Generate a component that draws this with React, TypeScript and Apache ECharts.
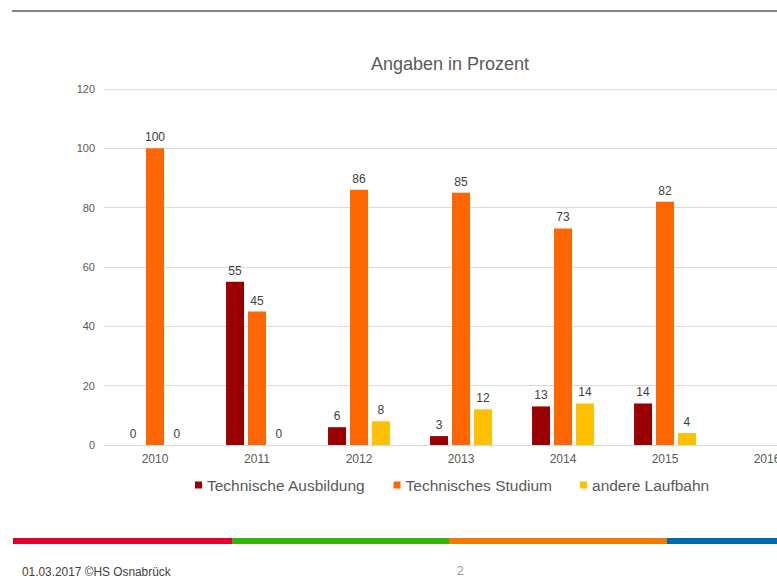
import React, { useEffect, useRef } from "react";
import * as echarts from "echarts";

const categories = ["2010", "2011", "2012", "2013", "2014", "2015", "2016"];
const ausbildung = [0, 55, 6, 3, 13, 14, null];
const studium = [100, 45, 86, 85, 73, 82, null];
const andere = [0, 0, 8, 12, 14, 4, null];
const seriesNames = ["Technische Ausbildung", "Technisches Studium", "andere Laufbahn"];
const seriesColors = ["#9A0000", "#FF6600", "#FFC000"];
const footerBars = [
  { x1: 13, x2: 232, color: "#E4002B" },
  { x1: 232, x2: 449, color: "#36B30A" },
  { x1: 449, x2: 667, color: "#F07D00" },
  { x1: 667, x2: 777, color: "#0069A8" },
];

const FONT = "Liberation Sans, Arial, sans-serif";

export default function App() {
  const ref = useRef<HTMLDivElement>(null);
  useEffect(() => {
    if (!ref.current) return;
    const chart = echarts.init(ref.current, null, { renderer: "svg" });
    const data = [ausbildung, studium, andere];
    chart.setOption({
      animation: false,
      backgroundColor: "#ffffff",
      title: {
        text: "Angaben in Prozent",
        left: 366,
        top: 50,
        textStyle: { fontFamily: FONT, fontSize: 18, fontWeight: "normal", color: "#595959" },
      },
      legend: {
        left: 190,
        top: 472,
        itemWidth: 7,
        itemHeight: 7,
        itemGap: 28,
        icon: "rect",
        textStyle: { fontFamily: FONT, fontSize: 15.5, color: "#595959" },
        data: seriesNames,
      },
      grid: { left: 104, top: 89, width: 714, height: 356, containLabel: false },
      xAxis: {
        type: "category",
        data: categories,
        axisLine: { lineStyle: { color: "#d9d9d9" } },
        axisTick: { show: false },
        axisLabel: { color: "#595959", fontSize: 12, margin: 8, fontFamily: FONT },
      },
      yAxis: {
        type: "value",
        min: 0,
        max: 120,
        interval: 20,
        axisLine: { show: false },
        axisTick: { show: false },
        splitLine: { lineStyle: { color: "#d9d9d9" } },
        axisLabel: { color: "#595959", fontSize: 11, margin: 9, fontFamily: FONT },
      },
      series: seriesNames.map((name, i) => ({
        name,
        type: "bar",
        data: data[i],
        barWidth: 18,
        barGap: "22%",
        itemStyle: { color: seriesColors[i] },
        label: {
          show: true,
          position: "top",
          distance: 5,
          color: "#404040",
          fontSize: 12,
          fontFamily: FONT,
        },
      })),
      graphic: [
        { type: "line", shape: { x1: 12, y1: 11, x2: 777, y2: 11 }, style: { stroke: "#5a5a5a", lineWidth: 1.5 } },
        ...footerBars.map((b) => ({
          type: "rect",
          shape: { x: b.x1, y: 538, width: b.x2 - b.x1, height: 6 },
          style: { fill: b.color },
        })),
        {
          type: "text",
          x: 22,
          y: 571,
          scaleX: 0.88,
          style: {
            text: "01.03.2017 ©HS Osnabrück",
            fontFamily: FONT,
            fontSize: 13.5,
            fill: "#404040",
            verticalAlign: "middle",
          },
        },
        {
          type: "text",
          x: 457,
          y: 571,
          style: { text: "2", fontFamily: FONT, fontSize: 12, fill: "#999999", verticalAlign: "middle" },
        },
      ],
    });
    return () => chart.dispose();
  }, []);
  return (
    <div style={{ position: "fixed", left: 0, top: 0, width: 777, height: 576, overflow: "hidden", background: "#fff" }}>
      <div ref={ref} style={{ width: 830, height: 576 }} />
    </div>
  );
}
